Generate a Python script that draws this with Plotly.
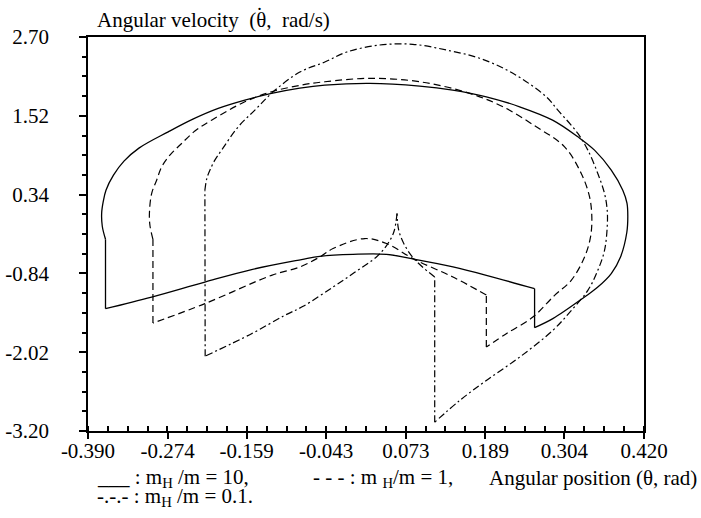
import numpy as np
import plotly.graph_objects as go

# ---------------- data ----------------
# mH/m = 10 (solid)
solid_x = [-0.3645, -0.3692, -0.3701, -0.3677, -0.3638, -0.3529, -0.3376, -0.3158, -0.2731, -0.2372,
           -0.2003, -0.1615, -0.1226, -0.0814, -0.0450, 0.0205, 0.0932, 0.1413, 0.1903, 0.2388,
           0.2868, 0.3236, 0.3479, 0.3723, 0.3891, 0.3952, 0.3964, 0.3950, 0.3858, 0.3723,
           0.3523, 0.3334, 0.2872, 0.2606, 0.2606, 0.1903, 0.1417, 0.0884, 0.0448, -0.0039,
           -0.0523, -0.0790, -0.1517, -0.2197, -0.2973, -0.3645, -0.3645]
solid_y = [-0.329, -0.134, 0.061, 0.241, 0.406, 0.631, 0.841, 1.036, 1.280, 1.470,
           1.631, 1.755, 1.856, 1.935, 1.980, 2.006, 1.965, 1.905, 1.805, 1.655,
           1.455, 1.205, 1.006, 0.706, 0.406, 0.211, 0.016, -0.224, -0.594, -0.843,
           -1.049, -1.194, -1.518, -1.653, -1.068, -0.869, -0.744, -0.633, -0.554, -0.554,
           -0.584, -0.633, -0.783, -0.969, -1.194, -1.368, -0.329]
solid_corners = [0, 33, 34, 45, 46]

# mH/m = 1 (dashed)
dashed_x = [-0.2954, -0.2998, -0.3005, -0.2973, -0.2900, -0.2827, -0.2707, -0.2536, -0.2343, -0.2100,
            -0.1615, -0.1226, -0.0790, -0.0450, 0.0205, 0.0932, 0.1660, 0.2145, 0.2631, 0.3043,
            0.3286, 0.3407, 0.3440, 0.3421, 0.3334, 0.3140, 0.2897, 0.2581, 0.2194, 0.1903,
            0.1903, 0.1417, 0.0860, 0.0448, 0.0132, -0.0330, -0.0523, -0.0814, -0.1226, -0.2197,
            -0.2954, -0.2954]
dashed_y = [-0.329, -0.119, 0.061, 0.356, 0.556, 0.755, 0.931, 1.106, 1.291, 1.455,
            1.730, 1.880, 1.980, 2.030, 2.081, 2.030, 1.856, 1.655, 1.355, 1.055,
            0.656, 0.306, 0.006, -0.294, -0.594, -0.944, -1.169, -1.494, -1.743, -1.944,
            -1.164, -0.894, -0.633, -0.393, -0.318, -0.468, -0.594, -0.744, -0.869, -1.293,
            -1.584, -0.329]
dashed_corners = [0, 29, 30, 40, 41]

# mH/m = 0.1 (dash-dot)
dashdot_x = [-0.2197, -0.2168, -0.2124, -0.2052, -0.1954, -0.1712, -0.1469, -0.1207, -0.0814, -0.0450,
             -0.0130, 0.0350, 0.0830, 0.1321, 0.1806, 0.2290, 0.2776, 0.2945, 0.3236, 0.3382,
             0.3527, 0.3625, 0.3664, 0.3664, 0.3625, 0.3527, 0.3382, 0.3130, 0.2872, 0.2388,
             0.1903, 0.1515, 0.1151, 0.1151, 0.0860, 0.0714, 0.0627, 0.0602, 0.0554, 0.0452,
             0.0302, -0.0014, -0.0330, -0.0766, -0.1033, -0.1517, -0.2193, -0.2197]
dashdot_y = [0.406, 0.586, 0.706, 0.856, 1.006, 1.355, 1.605, 1.875, 2.175, 2.325,
             2.475, 2.580, 2.591, 2.505, 2.381, 2.156, 1.805, 1.605, 1.256, 1.006,
             0.656, 0.356, 0.106, -0.144, -0.494, -0.794, -1.094, -1.408, -1.693, -2.094,
             -2.443, -2.743, -3.068, -0.894, -0.633, -0.419, -0.194, 0.057, -0.224, -0.419,
             -0.594, -0.824, -1.044, -1.333, -1.468, -1.743, -2.079, 0.406]
dashdot_corners = [0, 32, 33, 37, 46, 47]

x_tick_labels = ["-0.390", "-0.274", "-0.159", "-0.043", "0.073", "0.189", "0.304", "0.420"]
y_tick_labels = ["-3.20", "-2.02", "-0.84", "0.34", "1.52", "2.70"]

# ---------------- figure ----------------
W, H = 701, 518
L, R, T, B = 88, 57, 37, 87
pw, ph = W - L - R, H - T - B
FONT = '"Liberation Serif", "Times New Roman", Times, serif'
FS = 21


def pxx(x):
    return (x - L) / pw


def pxy(y):
    return (H - B - y) / ph


x_ticks = [float(v) for v in x_tick_labels]
y_ticks = [float(v) for v in y_tick_labels]
x_min, x_max = x_ticks[0], x_ticks[-1]
y_min, y_max = y_ticks[0], y_ticks[-1]

fig = go.Figure()


def add_curve(xs, ys, corners, line):
    # smooth arcs between corners, straight jumps where a piece is just two points
    for a, b in zip(corners[:-1], corners[1:]):
        seg_x, seg_y = xs[a:b + 1], ys[a:b + 1]
        shape = "spline" if len(seg_x) > 2 else "linear"
        fig.add_trace(go.Scatter(x=seg_x, y=seg_y, mode="lines", line=dict(shape=shape, **line),
                                 hoverinfo="skip"))


add_curve(solid_x, solid_y, solid_corners, dict(color="black", width=1.3))
add_curve(dashed_x, dashed_y, dashed_corners, dict(color="black", width=1.2, dash="7px,4px"))
add_curve(dashdot_x, dashdot_y, dashdot_corners, dict(color="black", width=1.2, dash="7px,3px,2px,3px"))

fig.update_xaxes(range=[x_min, x_max], tickmode="array", tickvals=x_ticks, ticktext=x_tick_labels,
                 ticks="outside", ticklen=6, tickwidth=1.5, tickcolor="black",
                 minor=dict(ticks="inside", ticklen=5, tickwidth=1.5, tickcolor="black",
                            tick0=x_min, dtick=(x_max - x_min) / 28),
                 showline=True, linewidth=1.8, linecolor="black", mirror=True,
                 showgrid=False, zeroline=False, automargin=False, ticklabelstandoff=-6,
                 tickfont=dict(family=FONT, size=FS, color="black"))
fig.update_yaxes(range=[y_min, y_max], tickmode="array", tickvals=y_ticks, ticktext=y_tick_labels,
                 ticks="outside", ticklen=7, tickwidth=1.5, tickcolor="black",
                 minor=dict(ticks="outside", ticklen=4, tickwidth=1.5, tickcolor="black",
                            tick0=y_min, dtick=(y_max - y_min) / 20),
                 showline=True, linewidth=1.8, linecolor="black", mirror=True,
                 showgrid=False, zeroline=False, ticklabelstandoff=26, automargin=False,
                 tickfont=dict(family=FONT, size=FS, color="black"))

NB = "\u00a0"
annots = [
    dict(text="Angular velocity" + NB * 2 + "(\u03b8," + NB * 2 + "rad/s)", x=pxx(95), y=pxy(20),
         xanchor="left", yanchor="middle"),
    # dot over theta (time derivative)
    dict(text="\u02d9", x=pxx(259.5), y=pxy(15), xanchor="center", yanchor="middle"),
    dict(text="___ : m<sub>H</sub> /m = 10,", x=pxx(95), y=pxy(478),
         xanchor="left", yanchor="middle"),
    dict(text="- - - : m <sub>H</sub>/m = 1,", x=pxx(311), y=pxy(478),
         xanchor="left", yanchor="middle"),
    dict(text="Angular position (\u03b8, rad)", x=pxx(699), y=pxy(478),
         xanchor="right", yanchor="middle"),
    dict(text="-.-.- : m<sub>H</sub> /m = 0.1.", x=pxx(95), y=pxy(497),
         xanchor="left", yanchor="middle"),
]
for a in annots:
    fig.add_annotation(xref="paper", yref="paper", showarrow=False,
                       font=dict(family=FONT, size=FS, color="black"), **a)

fig.update_layout(width=W, height=H, margin=dict(l=L, r=R, t=T, b=B),
                  paper_bgcolor="white", plot_bgcolor="white", showlegend=False)

fig.write_html("out.html", config={"displayModeBar": False},
               post_script="document.body.style.margin='0px';")
